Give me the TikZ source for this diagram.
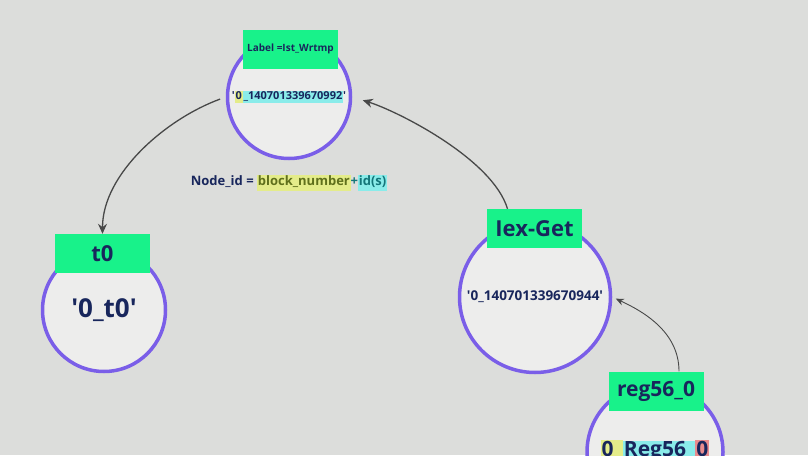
\documentclass[tikz,border=0pt]{standalone}
\usepackage{fontspec}
\setmainfont{Open Sans}[Ligatures=TeXOff]
\usetikzlibrary{arrows.meta}

\definecolor{bggray}{RGB}{220,221,219}
\definecolor{ringblue}{RGB}{122,94,232}
\definecolor{discgray}{RGB}{237,237,236}
\definecolor{taggreen}{RGB}{24,242,138}
\definecolor{inkblue}{RGB}{24,38,92}
\definecolor{hlyellow}{RGB}{228,236,138}
\definecolor{hlcyan}{RGB}{138,236,234}
\definecolor{hlred}{RGB}{232,140,142}
\definecolor{olivetext}{RGB}{96,112,28}
\definecolor{tealtext}{RGB}{20,118,122}
\definecolor{arrowgray}{RGB}{72,72,72}

\newcommand{\hly}[1]{{\fboxsep=0.8pt\colorbox{hlyellow}{\strut #1}}}
\newcommand{\hlc}[1]{{\fboxsep=0.8pt\colorbox{hlcyan}{\strut #1}}}
\newcommand{\hlr}[1]{{\fboxsep=0.8pt\colorbox{hlred}{\strut #1}}}
\newcommand{\fsz}[1]{\fontsize{#1}{#1}\selectfont}

\begin{document}
\begin{tikzpicture}[x=1pt,y=-1pt,
	disc/.style={circle,draw=ringblue,line width=3.5pt,fill=discgray,text=inkblue,inner sep=0pt,font=\bfseries},
	tag/.style={fill=taggreen,text=inkblue,font=\bfseries,minimum width=95pt,minimum height=39pt,inner sep=0pt},
	link/.style={draw=arrowgray,line width=1.3pt,-{Stealth[length=10pt,width=9pt]}},
	thinlink/.style={draw=arrowgray,line width=0.9pt,-{Stealth[length=8pt,width=7pt]}}]
	\fill[bggray] (0,0) rectangle (808,455);
	\clip (0,0) rectangle (808,455);
	
	\node[disc,minimum size=123pt] (wrtmp) at (289,97) {\fsz{11}'\hly{0}\hlc{\_140701339670992}'};
	\node[disc,minimum size=123pt] (t0) at (104,310) {\fsz{26}'0\_t0'};
	\node[disc,minimum size=151pt] (iex) at (535,297) {\fsz{13.5}'0\_140701339670944'};
	\node[disc,minimum size=136pt] (reg) at (655,452) {\fsz{21}\hly{0\_}\hlc{Reg56\_}\hlr{0}};
	
	\node[tag] (wrtmptag) at (290.5,49) {\fsz{10}Label =Ist\_Wrtmp};
	\node[tag] (t0tag) at (102.5,253.5) {\fsz{22}t0};
	\node[tag] (iextag) at (534.5,228.5) {\fsz{22}Iex-Get};
	\node[tag] (regtag) at (656,391) {\fsz{21}reg56\_0};
	
	\node[font=\bfseries,text=inkblue] (nodeid) at (289,183) {\fsz{13}Node\_id = \hly{\textcolor{olivetext}{block\_number}}\textcolor{tealtext}{+}\hlc{\textcolor{tealtext}{id(s)}}};
	
	\draw[link,shorten >=11pt] ([xshift=-27pt]iextag.north) .. controls +(-15,-50) and +(45,14) .. (wrtmp.east);
	\draw[link,shorten <=6pt] (wrtmp.west) .. controls +(-60,22) and +(0,-60) .. (t0tag.north);
	\draw[thinlink,shorten >=4pt] ([xshift=23pt]regtag.north) .. controls +(0,-40) and +(30,14) .. (iex.east);
	
\end{tikzpicture}
\end{document}
